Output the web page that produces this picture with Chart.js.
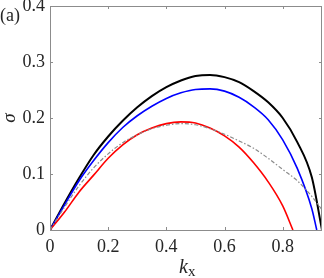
<!DOCTYPE html>
<html>
<head>
<meta charset="utf-8">
<script src="https://cdn.jsdelivr.net/npm/chart.js@4"></script>
<style>
    html, body { margin: 0; padding: 0; background: #fff; }
    #wrap { width: 324px; height: 278px; position: relative; }
</style>
</head>
<body>
<div id="wrap"><canvas id="growthChart" width="324" height="278"></canvas></div>
<script>
// tick labels
const xTicks = [0, 0.2, 0.4, 0.6, 0.8];
const yTicks = [0, 0.1, 0.2, 0.3, 0.4];

// black curve
const kBlack = [0, 0.05, 0.1, 0.15, 0.2, 0.25, 0.3, 0.35, 0.4, 0.45, 0.5, 0.55, 0.6, 0.65, 0.7, 0.75, 0.8, 0.85, 0.9, 0.935];
const sigmaBlack = [0, 0.048, 0.093, 0.134, 0.167, 0.195, 0.219, 0.239, 0.255, 0.267, 0.275, 0.277, 0.273, 0.264, 0.248, 0.228, 0.200, 0.157, 0.094, 0];

// blue curve
const kBlue = [0, 0.05, 0.1, 0.15, 0.2, 0.25, 0.3, 0.35, 0.4, 0.45, 0.5, 0.55, 0.6, 0.65, 0.7, 0.75, 0.8, 0.85, 0.9, 0.917];
const sigmaBlue = [0, 0.045, 0.088, 0.124, 0.156, 0.183, 0.204, 0.221, 0.235, 0.245, 0.251, 0.252, 0.248, 0.237, 0.220, 0.197, 0.161, 0.110, 0.038, 0];

// red curve
const kRed = [0, 0.05, 0.1, 0.15, 0.2, 0.25, 0.3, 0.35, 0.4, 0.45, 0.5, 0.55, 0.6, 0.65, 0.7, 0.75, 0.8, 0.835];
const sigmaRed = [0, 0.032, 0.068, 0.098, 0.128, 0.152, 0.170, 0.182, 0.190, 0.193, 0.191, 0.182, 0.168, 0.148, 0.120, 0.086, 0.043, 0];

// grey dash-dot curve
const kGrey = [0, 0.05, 0.1, 0.15, 0.2, 0.25, 0.3, 0.35, 0.4, 0.45, 0.5, 0.55, 0.6, 0.65, 0.7, 0.75, 0.8, 0.85, 0.9, 0.935];
const sigmaGrey = [0, 0.041, 0.079, 0.111, 0.136, 0.156, 0.170, 0.181, 0.187, 0.190, 0.188, 0.181, 0.171, 0.159, 0.146, 0.128, 0.108, 0.088, 0.060, 0.036];

const pts = (xs, ys) => xs.map((x, i) => ({ x: x, y: ys[i] }));

const AXIS = '#8c8c8c';
const TEXT = '#262626';
const SERIF = "'Times New Roman', 'Liberation Serif', serif";

// box, inward ticks, x label and panel tag
const framePlugin = {
    id: 'frame',
    afterDraw(chart) {
        const { ctx, chartArea: a, scales } = chart;
        ctx.save();
        ctx.strokeStyle = AXIS;
        ctx.lineWidth = 1;
        ctx.strokeRect(a.left + 0.5, a.top + 0.5, a.right - a.left - 1, a.bottom - a.top);
        ctx.beginPath();
        xTicks.forEach(v => {
            const px = Math.round(scales.x.getPixelForValue(v)) + 0.5;
            ctx.moveTo(px, a.bottom); ctx.lineTo(px, a.bottom - 3);
            ctx.moveTo(px, a.top); ctx.lineTo(px, a.top + 3);
        });
        yTicks.forEach(v => {
            const py = Math.round(scales.y.getPixelForValue(v)) + 0.5;
            ctx.moveTo(a.left, py); ctx.lineTo(a.left + 3, py);
            ctx.moveTo(a.right, py); ctx.lineTo(a.right - 3, py);
        });
        ctx.stroke();

        ctx.fillStyle = TEXT;
        ctx.textBaseline = 'alphabetic';
        const cx = (a.left + a.right) / 2;
        ctx.font = 'italic 20px ' + SERIF;
        ctx.textAlign = 'right';
        ctx.fillText('k', cx + 2, 273);
        ctx.font = '15px ' + SERIF;
        ctx.textAlign = 'left';
        ctx.fillText('x', cx + 2, 276);

        ctx.font = '18px ' + SERIF;
        ctx.fillText('(a)', 0, 21);
        ctx.restore();
    }
};

new Chart(document.getElementById('growthChart'), {
    type: 'line',
    data: {
        datasets: [
            { data: pts(kGrey, sigmaGrey), borderColor: '#8a8a8a', borderWidth: 1.2, borderDash: [4, 2, 1.5, 2] },
            { data: pts(kRed, sigmaRed), borderColor: '#ff0000', borderWidth: 1.6 },
            { data: pts(kBlue, sigmaBlue), borderColor: '#0000ff', borderWidth: 1.6 },
            { data: pts(kBlack, sigmaBlack), borderColor: '#000000', borderWidth: 2 }
        ]
    },
    options: {
        responsive: false,
        animation: false,
        events: [],
        layout: { padding: { top: 6, right: 2, left: 0, bottom: 0 } },
        elements: {
            point: { radius: 0 },
            line: { cubicInterpolationMode: 'monotone', fill: false }
        },
        plugins: { legend: { display: false }, tooltip: { enabled: false } },
        scales: {
            x: {
                type: 'linear',
                min: 0,
                max: 0.935,
                afterBuildTicks: s => { s.ticks = xTicks.map(v => ({ value: v })); },
                afterFit: s => { s.height = 48; },
                grid: { display: false, drawTicks: false },
                border: { display: false },
                ticks: {
                    color: TEXT,
                    padding: 6,
                    maxRotation: 0,
                    font: { family: SERIF, size: 18 },
                    callback: v => String(v)
                }
            },
            y: {
                type: 'linear',
                min: 0,
                max: 0.4,
                afterBuildTicks: s => { s.ticks = yTicks.map(v => ({ value: v })); },
                afterFit: s => { s.width = 50; s.paddingTop = 0; s.paddingBottom = 0; },
                grid: { display: false, drawTicks: false },
                border: { display: false },
                title: {
                    display: true,
                    text: 'σ',
                    color: TEXT,
                    padding: 0,
                    font: { family: SERIF, size: 19, style: 'italic', lineHeight: 1 }
                },
                ticks: {
                    color: TEXT,
                    padding: 5,
                    font: { family: SERIF, size: 18 },
                    callback: v => String(v)
                }
            }
        }
    },
    plugins: [framePlugin]
});
</script>
</body>
</html>
